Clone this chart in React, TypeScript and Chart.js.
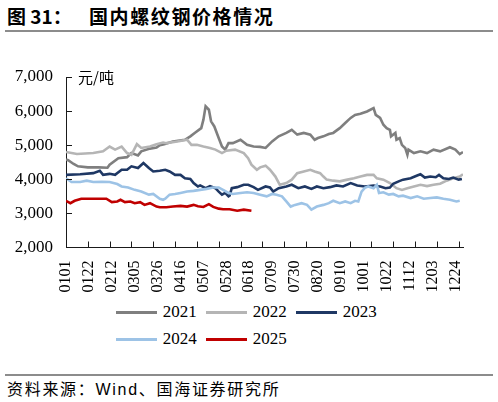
import { useEffect, useRef } from "react";
import { Chart, registerables } from "chart.js";

Chart.register(...registerables);

// x 轴：1月1日起的天数
const tickLabels = ['0101', '0122', '0212', '0305', '0326', '0416', '0507', '0528', '0618', '0709', '0730', '0820', '0910', '1001', '1022', '1112', '1203', '1224'];
const labelStep = 21;
const markStep = 20;
const dayMax = 364;
const yTicks = [3000, 4000, 5000, 6000, 7000];

const days2021 = [0, 2, 7, 11, 20, 30, 38, 40, 48, 56, 60, 66, 69, 77, 83, 86, 90, 98, 109, 114, 118, 124, 126, 128, 131, 133, 136, 140, 143, 146, 149, 153, 160, 166, 172, 178, 183, 189, 195, 202, 207, 212, 218, 224, 228, 231, 236, 241, 245, 251, 256, 261, 265, 270, 276, 282, 284, 288, 291, 294, 297, 298, 302, 303, 306, 308, 311, 313, 314, 319, 325, 331, 337, 343, 352, 357, 361, 364];
const price2021 = [4580, 4560, 4450, 4380, 4350, 4350, 4340, 4430, 4620, 4650, 4770, 4700, 4820, 4900, 4930, 5000, 5030, 5110, 5160, 5260, 5360, 5500, 5750, 6140, 6040, 5700, 5550, 5210, 4960, 4870, 5060, 5060, 5160, 5010, 4960, 4950, 4920, 5110, 5260, 5360, 5450, 5310, 5360, 5310, 5160, 5210, 5260, 5330, 5360, 5500, 5650, 5800, 5890, 5920, 5990, 6090, 5890, 5800, 5600, 5500, 5450, 5260, 5360, 5160, 5210, 5010, 4920, 4720, 4870, 4770, 4820, 4770, 4870, 4820, 4940, 4870, 4740, 4800];

const days2022 = [0, 10, 25, 34, 40, 45, 51, 56, 60, 65, 69, 77, 83, 89, 92, 102, 111, 115, 120, 126, 132, 137, 143, 147, 155, 163, 167, 170, 175, 178, 183, 187, 192, 196, 202, 207, 212, 218, 224, 228, 233, 236, 239, 245, 251, 258, 264, 270, 276, 282, 285, 291, 297, 303, 308, 313, 319, 325, 331, 337, 343, 349, 355, 361, 364];
const price2022 = [4800, 4740, 4770, 4820, 4960, 4870, 4960, 4770, 4720, 5030, 4920, 4960, 5030, 5080, 5060, 5110, 5160, 5010, 5010, 4960, 4920, 4870, 4770, 4840, 4870, 4770, 4620, 4430, 4280, 4350, 4400, 4280, 4080, 3840, 3890, 3990, 4180, 4230, 4280, 4230, 4180, 4080, 3990, 3960, 3940, 3990, 4030, 4080, 4130, 4130, 4030, 3990, 3890, 3740, 3690, 3740, 3790, 3840, 3800, 3840, 3870, 3960, 4030, 4080, 4150];

const days2023 = [0, 13, 25, 31, 34, 40, 45, 51, 56, 60, 66, 71, 76, 80, 86, 91, 95, 100, 105, 109, 114, 117, 121, 123, 128, 132, 137, 140, 143, 146, 149, 150, 152, 157, 163, 167, 172, 176, 183, 187, 190, 195, 202, 207, 213, 219, 225, 230, 236, 242, 248, 254, 261, 267, 274, 282, 288, 293, 297, 300, 305, 309, 316, 322, 325, 329, 334, 339, 342, 346, 351, 355, 360, 363];
const price2023 = [4130, 4150, 4180, 4250, 4130, 4160, 4130, 4280, 4280, 4380, 4330, 4480, 4330, 4230, 4250, 4280, 4230, 4130, 4130, 4030, 4010, 3890, 3790, 3820, 3740, 3800, 3740, 3640, 3550, 3600, 3500, 3520, 3740, 3770, 3840, 3840, 3770, 3690, 3790, 3760, 3640, 3740, 3790, 3840, 3740, 3790, 3720, 3790, 3740, 3770, 3820, 3790, 3890, 3820, 3790, 3820, 3790, 3740, 3760, 3870, 3940, 3990, 4030, 4110, 4150, 4050, 4080, 4060, 4130, 4030, 4010, 4050, 3990, 4010];

const days2024 = [0, 5, 13, 19, 25, 33, 40, 47, 51, 57, 63, 69, 76, 80, 86, 89, 91, 95, 100, 105, 111, 117, 123, 129, 135, 140, 144, 149, 153, 160, 166, 172, 178, 184, 189, 193, 198, 202, 206, 210, 216, 221, 225, 230, 236, 241, 245, 251, 256, 261, 265, 268, 271, 274, 277, 282, 285, 287, 291, 296, 300, 305, 309, 316, 322, 328, 334, 340, 346, 352, 358, 361];
const price2024 = [4030, 3920, 3920, 3960, 3920, 3930, 3920, 3860, 3790, 3760, 3690, 3640, 3550, 3570, 3430, 3400, 3430, 3550, 3570, 3600, 3640, 3660, 3690, 3720, 3760, 3760, 3690, 3600, 3570, 3600, 3620, 3600, 3550, 3500, 3570, 3550, 3500, 3350, 3200, 3250, 3300, 3250, 3110, 3200, 3250, 3300, 3370, 3300, 3350, 3300, 3370, 3350, 3640, 3750, 3790, 3740, 3840, 3600, 3620, 3550, 3570, 3500, 3520, 3450, 3500, 3430, 3450, 3470, 3430, 3400, 3350, 3370];

const days2025 = [0, 4, 8, 14, 25, 37, 42, 47, 50, 54, 59, 63, 68, 72, 77, 83, 86, 92, 98, 105, 111, 117, 121, 126, 131, 135, 140, 144, 150, 157, 163, 170];
const price2025 = [3370, 3300, 3370, 3430, 3430, 3430, 3330, 3350, 3400, 3330, 3350, 3300, 3330, 3250, 3300, 3200, 3180, 3180, 3200, 3220, 3200, 3250, 3210, 3190, 3270, 3190, 3140, 3120, 3120, 3080, 3110, 3080];

const seriesNames = ['2021', '2022', '2023', '2024', '2025'];
const seriesColors = ['#7f7f7f', '#b5b5b5', '#1f3864', '#9dc3e6', '#c00000'];
const seriesDays = [days2021, days2022, days2023, days2024, days2025];
const seriesPrices = [price2021, price2022, price2023, price2024, price2025];

const axisColor = '#1a1a1a';
const serif = "'Liberation Serif', 'Times New Roman', serif";
const cjk = "'Noto Sans CJK SC', sans-serif";

// 刻度线朝内
const innerTicks = {
    id: 'innerTicks',
    afterDraw(chart: any) {
        const { ctx, chartArea, scales } = chart;
        ctx.save();
        ctx.strokeStyle = axisColor;
        ctx.lineWidth = 1;
        ctx.beginPath();
        for (let d = markStep; d < dayMax; d += markStep) {
            const px = Math.round(scales.x.getPixelForValue(d)) + 0.5;
            ctx.moveTo(px, chartArea.bottom);
            ctx.lineTo(px, chartArea.bottom - 6);
        }
        yTicks.forEach((v) => {
            const py = Math.round(scales.y.getPixelForValue(v)) + 0.5;
            ctx.moveTo(chartArea.left, py);
            ctx.lineTo(chartArea.left + 6, py);
        });
        ctx.stroke();
        ctx.restore();
    },
};

export default function App() {
    const canvasRef = useRef<HTMLCanvasElement>(null);

    useEffect(() => {
        if (!canvasRef.current) return;
        const ctx = canvasRef.current.getContext("2d");
        if (!ctx) return;

        const datasets = seriesNames.map((name, i) => ({
            label: name,
            data: seriesDays[i].map((d, j) => ({ x: d, y: seriesPrices[i][j] })),
            borderColor: seriesColors[i],
            borderWidth: 2.6,
            pointRadius: 0,
            tension: 0,
            fill: false,
            order: seriesNames.length - i,
        }));

        const chartInstance = new Chart(ctx, {
            type: 'line',
            data: { datasets },
            plugins: [innerTicks],
            options: {
                responsive: false,
                animation: false,
                layout: { padding: { left: 0, right: 35, top: 77, bottom: 0 } },
                plugins: {
                    legend: { display: false },
                    tooltip: { enabled: false },
                },
                scales: {
                    x: {
                        type: 'linear',
                        min: 0,
                        max: dayMax,
                        afterBuildTicks: (scale: any) => {
                            scale.ticks = tickLabels.map((_, i) => ({ value: i * labelStep }));
                        },
                        afterFit: (scale: any) => {
                            scale.height = 52.5;
                        },
                        grid: { display: false, drawTicks: false },
                        border: { display: true, color: axisColor, width: 1 },
                        ticks: {
                            autoSkip: false,
                            maxRotation: 90,
                            minRotation: 90,
                            padding: 13,
                            color: '#000',
                            font: { family: serif, size: 16 },
                            callback: (_v: any, index: number) => tickLabels[index],
                        },
                    },
                    y: {
                        min: 2000,
                        max: 7000,
                        afterFit: (scale: any) => {
                            scale.width = 66;
                        },
                        grid: { display: false, drawTicks: false },
                        border: { display: true, color: axisColor, width: 1 },
                        ticks: {
                            stepSize: 1000,
                            padding: 13,
                            color: '#000',
                            font: { family: serif, size: 17 },
                            callback: (v: any) => Number(v).toLocaleString('en-US'),
                        },
                    },
                },
            },
        });
        return () => {
            chartInstance.destroy();
        };
    }, []);

    return (
        <div style={{ position: 'fixed', left: 0, top: 0, width: 498, height: 402, background: '#fff', overflow: 'hidden' }}>
            <div style={{ position: 'absolute', left: 7, top: 5, fontFamily: cjk, fontWeight: 700, fontSize: 19, lineHeight: '22px', whiteSpace: 'nowrap', color: '#000' }}>图 31：</div>
            <div style={{ position: 'absolute', left: 89, top: 5, fontFamily: cjk, fontWeight: 700, fontSize: 19, lineHeight: '22px', letterSpacing: 1.6, whiteSpace: 'nowrap', color: '#000' }}>国内螺纹钢价格情况</div>
            <div style={{ position: 'absolute', left: 5, top: 30, width: 488, height: 2, background: '#8c8c8c' }} />

            <canvas ref={canvasRef} width={498} height={300} style={{ position: 'absolute', left: 0, top: 0 }} />
            <div style={{ position: 'absolute', left: 78, top: 68, fontFamily: cjk, fontSize: 15, lineHeight: '18px', color: '#000', whiteSpace: 'nowrap' }}>元/吨</div>

            {seriesNames.map((name, i) => (
                <div key={name} style={{ position: 'absolute', left: 115.7 + (i % 3) * 90, top: 312 - 10 + Math.floor(i / 3) * 27, height: 20, display: 'flex', alignItems: 'center' }}>
                    <span style={{ display: 'inline-block', width: 41, height: 3, background: seriesColors[i] }} />
                    <span style={{ marginLeft: 6, fontFamily: serif, fontSize: 17, lineHeight: '20px', color: '#000' }}>{name}</span>
                </div>
            ))}

            <div style={{ position: 'absolute', left: 5, top: 374, width: 488, height: 2, background: '#8c8c8c' }} />
            <div style={{ position: 'absolute', left: 7, top: 378, fontFamily: cjk, fontSize: 16, lineHeight: '20px', letterSpacing: 1.7, whiteSpace: 'nowrap', color: '#000' }}>
                资料来源：<span style={{ fontFamily: "'Liberation Sans', Arial, sans-serif" }}>Wind</span>、国海证券研究所
            </div>
        </div>
    );
}
